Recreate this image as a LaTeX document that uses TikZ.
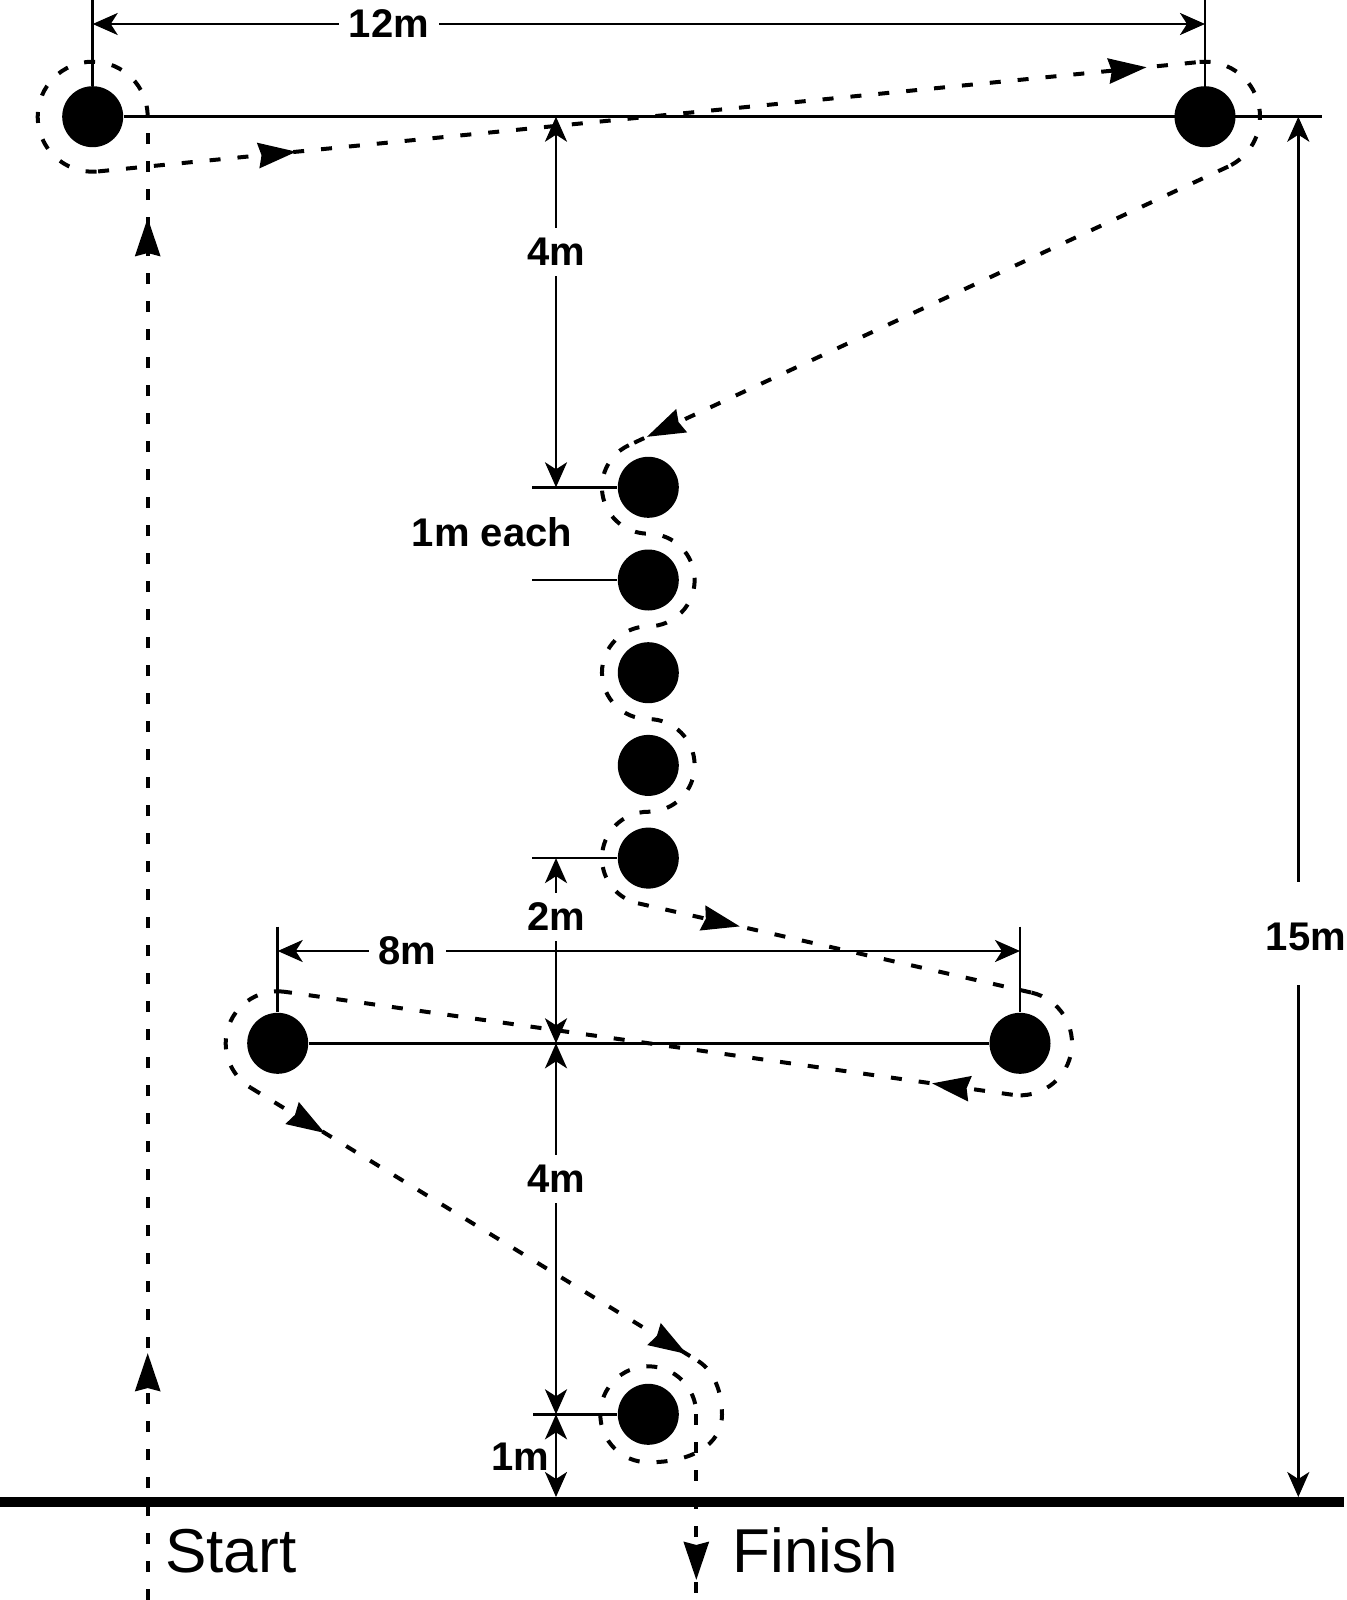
\documentclass[tikz,border=0pt]{standalone}
\usepackage{fontspec}
\setmainfont{Liberation Sans}
\usetikzlibrary{arrows.meta,calc,decorations.markings}
\begin{document}
\begin{tikzpicture}[x=0.5pt,y=-0.5pt,
  cone/.style={circle, fill=black, minimum size=30.5pt, inner sep=0pt},
  dimline/.style={line width=1.35pt},
  dimarr/.style={dimline, {Stealth[length=12.5pt,width=11pt,inset=3.5pt]}-{Stealth[length=12.5pt,width=11pt,inset=3.5pt]}},
  route/.style={line width=2pt, dash pattern=on 5.5pt off 8.5pt},
  lbl/.style={font=\bfseries\fontsize{20}{24}\selectfont, fill=white, inner xsep=5pt, inner ysep=5pt},
  lblnf/.style={font=\bfseries\fontsize{20}{24}\selectfont, inner sep=0pt},
  big/.style={font=\fontsize{31}{36}\selectfont, inner sep=0pt},
  midarrow/.style={postaction={decorate,decoration={markings,mark=at position #1 with {\arrow{Stealth[length=19pt,width=12.5pt,inset=1.5pt]}}}}}
]
\fill[white] (0,0) rectangle (1347,1600);
\useasboundingbox (0,0) rectangle (1347,1600);

% cones
\node[cone] (c1) at (92.7,116.7) {};
\node[cone] (c2) at (1205,116.7) {};
\node[cone] (c3) at (648.3,487.3) {};
\node[cone] (c4) at (648.3,580.0) {};
\node[cone] (c5) at (648.3,672.7) {};
\node[cone] (c6) at (648.3,765.4) {};
\node[cone] (c7) at (648.3,858.1) {};
\node[cone] (c8) at (277.7,1043.3) {};
\node[cone] (c9) at (1020,1043.3) {};
\node[cone] (c10) at (648.3,1414.3) {};

% coordinates for dimensions
\coordinate (e1) at (92.7,0);
\coordinate (e2) at (1205,0);
\coordinate (d12a) at (92.7,24);
\coordinate (d12b) at (1205,24);
\coordinate (hr) at (1322,116.7);
\coordinate (v4a) at (556,116.7);
\coordinate (v4b) at (556,487.3);
\coordinate (t3) at (532,487.3);
\coordinate (t4) at (532,580.0);
\coordinate (t7) at (532,858.1);
\coordinate (t10) at (533,1414.3);
\coordinate (v2a) at (556,858.1);
\coordinate (v2b) at (556,1043.3);
\coordinate (v4c) at (556,1414.3);
\coordinate (v1b) at (556,1497);
\coordinate (e8) at (277.7,926.7);
\coordinate (e9) at (1020,926.7);
\coordinate (d8a) at (277.7,951);
\coordinate (d8b) at (1020,951);
\coordinate (v15a) at (1298.3,116.7);
\coordinate (v15b) at (1298.3,882);
\coordinate (v15c) at (1298.3,985);
\coordinate (v15d) at (1298.3,1497);
\coordinate (gl) at (0,1502);
\coordinate (gr) at (1344,1502);

% dimension lines
\draw[dimline] (e1) -- (c1.north);
\draw[dimline] (e2) -- (c2.north);
\draw[dimarr] (d12a) -- (d12b);
\draw[dimline] (c1.east) -- (hr);
\draw[dimarr] (v4a) -- (v4b);
\draw[dimline] (t3) -- (c3.west);
\draw[dimline] (t4) -- (c4.west);
\draw[dimline] (t7) -- (c7.west);
\draw[dimline] (t10) -- (c10.west);
\draw[dimarr] (v2a) -- (v2b);
\draw[dimline] (e8) -- (c8.north);
\draw[dimline] (e9) -- (c9.north);
\draw[dimarr] (d8a) -- (d8b);
\draw[dimline] (c8.east) -- (c9.west);
\draw[dimarr] (v2b) -- (v4c);
\draw[dimarr] (v4c) -- (v1b);
\draw[dimline, {Stealth[length=12.5pt,width=11pt,inset=3.5pt]}-] (v15a) -- (v15b);
\draw[dimline, -{Stealth[length=12.5pt,width=11pt,inset=3.5pt]}] (v15c) -- (v15d);
\draw[line width=4.75pt] (gl) -- (gr);

% route
\draw[route, midarrow=0.1665, midarrow=0.9317] ($(c1)+(55,1483.3)$) -- ($(c1)+(55,0)$);
\draw[route] ($(c1)+(0:55)$) arc[start angle=0, end angle=-275.68, radius=55];
\draw[route, midarrow=0.18, midarrow=0.952] ($(c1)+(84.32:55)$) -- ($(c2)+(-95.68:55)$);
\draw[route] ($(c2)+(-95.68:55)$) arc[start angle=-95.68, end angle=65.1, radius=55];
\draw[route, midarrow=0.970] ($(c2)+(65.1:55)$) -- ($(c3)+(245.1:46.35)$);
\draw[route] ($(c3)+(245.1:46.35)$) arc[start angle=245.1, end angle=90, radius=46.35]
  arc[start angle=-90, end angle=90, radius=46.35]
  arc[start angle=270, end angle=90, radius=46.35]
  arc[start angle=-90, end angle=90, radius=46.35]
  arc[start angle=270, end angle=102.79, radius=46.35];
\draw[route, midarrow=0.259] ($(c7)+(102.79:46.35)$) -- ($(c9)+(-77.21:52)$);
\draw[route] ($(c9)+(-77.21:52)$) arc[start angle=-77.21, end angle=98.05, radius=52];
\draw[route, midarrow=0.111] ($(c9)+(98.05:52)$) -- ($(c8)+(278.05:52)$);
\draw[route] ($(c8)+(278.05:52)$) arc[start angle=278.05, end angle=121.4, radius=52];
\coordinate (s10) at ($(c10)+(49.7,-53.4)$);
\draw[route, midarrow=0.166, midarrow=0.975] ($(c8)+(121.4:52)$) -- (s10);
\draw[route] (s10) .. controls +(16,10.1) and +(0,-22.3) .. ($(c10)+(73.7,0)$)
  .. controls +(0,31.7) and +(41.7,0) .. ($(c10)+(0,48)$)
  arc[start angle=90, end angle=360, radius=48];
\draw[route, midarrow=0.892] ($(c10)+(48,0)$) -- ($(c10)+(48,185.7)$);

% labels
\node[lbl] (l12) at (389,24) {12m};
\node[lbl] (l4a) at (556,252) {4m};
\node[lblnf] (leach) at (492,532.5) {1m each};
\node[lbl] (l2) at (556,917) {2m};
\node[lbl] (l8) at (407.5,951) {8m};
\node[lbl] (l4b) at (556,1179) {4m};
\node[lblnf] (l1) at (520,1457) {1m};
\node[lblnf] (l15) at (1306,937) {15m};
\node[big, anchor=base west] (start) at (165,1572) {Start};
\node[big, anchor=base west] (finish) at (732,1572) {Finish};
\end{tikzpicture}
\end{document}
